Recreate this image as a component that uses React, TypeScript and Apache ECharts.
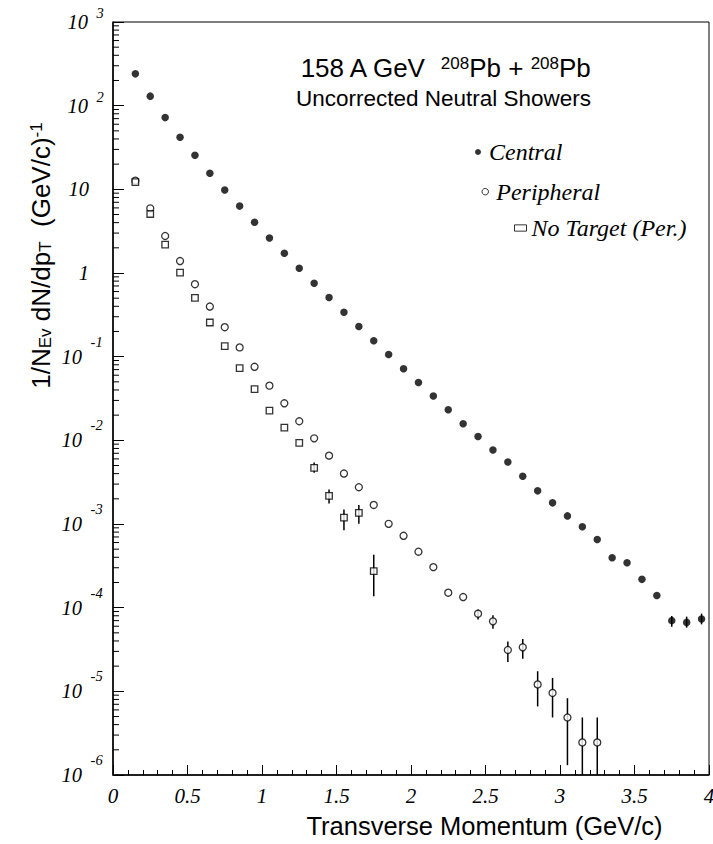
import React, { useEffect, useRef } from "react";
import * as echarts from "echarts";

// Transverse momentum bin centres (GeV/c)
const ptBins = [
  0.15, 0.25, 0.35, 0.45, 0.55, 0.65, 0.75, 0.85, 0.95, 1.05,
  1.15, 1.25, 1.35, 1.45, 1.55, 1.65, 1.75, 1.85, 1.95, 2.05,
  2.15, 2.25, 2.35, 2.45, 2.55, 2.65, 2.75, 2.85, 2.95, 3.05,
  3.15, 3.25, 3.35, 3.45, 3.55, 3.65, 3.75, 3.85, 3.95,
];

// 1/N_Ev dN/dpT, central events
const centralYield = [
  240, 130, 72, 42, 25.5, 15.6, 9.8, 6.3, 4.05, 2.62,
  1.72, 1.14, 0.755, 0.509, 0.34, 0.229, 0.155, 0.106, 0.0717, 0.0492,
  0.0339, 0.0232, 0.0158, 0.0111, 0.00767, 0.00552, 0.00372, 0.00249, 0.00179, 0.00125,
  0.000927, 0.000653, 0.000395, 0.000344, 0.000218, 0.00014, 7.0e-5, 6.67e-5, 7.31e-5,
];

// peripheral events (first 32 bins)
const peripheralYield = [
  12.7, 5.93, 2.77, 1.39, 0.735, 0.397, 0.225, 0.129, 0.0757, 0.045,
  0.0277, 0.0169, 0.01057, 0.00656, 0.00401, 0.00275, 0.00169, 0.001005, 0.000723, 0.000466,
  0.000305, 0.000151, 0.000134, 8.47e-5, 6.86e-5, 3.12e-5, 3.36e-5, 1.21e-5, 9.57e-6, 4.87e-6,
  2.45e-6, 2.45e-6,
];

// empty-target runs with the peripheral trigger (first 17 bins)
const noTargetYield = [
  12.2, 5.07, 2.18, 1.01, 0.505, 0.256, 0.134, 0.0731, 0.041, 0.0226,
  0.0142, 0.0093, 0.00469, 0.00217, 0.00119, 0.00136, 0.000273,
];

// error bars: [pT, lower, upper]
const centralErrors = [
  [3.75, 5.93e-5, 7.94e-5],
  [3.85, 5.77e-5, 7.81e-5],
  [3.95, 6.32e-5, 8.48e-5],
];
const peripheralErrors = [
  [2.45, 7.2e-5, 9.5e-5],
  [2.55, 5.6e-5, 8.1e-5],
  [2.65, 2.24e-5, 3.93e-5],
  [2.75, 2.46e-5, 4.22e-5],
  [2.85, 6.6e-6, 1.74e-5],
  [2.95, 4.87e-6, 1.445e-5],
  [3.05, 1.31e-6, 8.28e-6],
  [3.15, 1.0e-6, 4.87e-6],
  [3.25, 1.0e-6, 4.87e-6],
];
const noTargetErrors = [
  [1.35, 4.11e-3, 5.42e-3],
  [1.45, 1.76e-3, 2.58e-3],
  [1.55, 8.4e-4, 1.49e-3],
  [1.65, 1.01e-3, 1.69e-3],
  [1.75, 1.37e-4, 4.29e-4],
];

const seriesNames = ["Central", "Peripheral", "No Target (Per.)"];

// tick labels
const xTickValues = [0, 0.5, 1, 1.5, 2, 2.5, 3, 3.5, 4];
const yDecadeExponents = [-6, -5, -4, -3, -2, -1, 0, 1, 2, 3];

const X_MIN = 0;
const X_MAX = 4;
const Y_MIN = 1e-6;
const Y_MAX = 1e3;

// log-axis minor ticks at 2..9 x 10^k
const minorTickValues: number[] = [];
for (let k = -6; k <= 2; k++) {
  for (let m = 2; m <= 9; m++) minorTickValues.push(m * Math.pow(10, k));
}

const SANS = "Liberation Sans";
const SERIF = "Liberation Serif";

const toPairs = (ys: number[]) => ys.map((y, i) => [ptBins[i], y]);

const errorBarSeries = (name: string, errs: number[][]) => ({
  type: "custom",
  name,
  data: errs,
  silent: true,
  z: 2,
  clip: true,
  encode: { x: 0, y: [1, 2] },
  renderItem: (_params: any, api: any) => {
    const lo = api.coord([api.value(0), api.value(1)]);
    const hi = api.coord([api.value(0), api.value(2)]);
    return {
      type: "line",
      shape: { x1: lo[0], y1: lo[1], x2: hi[0], y2: hi[1] },
      style: { stroke: "#000", lineWidth: 1.5 },
    };
  },
});

const legendBase = {
  orient: "vertical",
  padding: 0,
  selectedMode: false,
  itemGap: 0,
  textStyle: { fontFamily: SERIF, fontStyle: "italic", fontWeight: "normal", fontSize: 24, color: "#000" },
};

const italicText = (text: string, x: number, y: number, size: number, align: string, vAlign: string) => ({
  type: "text",
  silent: true,
  z: 10,
  style: {
    text,
    x,
    y,
    fill: "#000",
    font: `italic normal ${size}px "${SERIF}"`,
    align,
    verticalAlign: vAlign,
  },
});

export default function App() {
  const ref = useRef<HTMLDivElement>(null);

  useEffect(() => {
    if (!ref.current) return;
    const chart = echarts.init(ref.current, undefined, { renderer: "svg" });

    chart.setOption({
      animation: false,
      backgroundColor: "#fff",
      title: [
        {
          text: "{a|158 A GeV  }{s|208}{a|Pb + }{s|208}{a|Pb}",
          left: 445,
          top: 55,
          padding: 0,
          textAlign: "center",
          textVerticalAlign: "top",
          textStyle: {
            fontWeight: "normal",
            rich: {
              a: { fontFamily: SANS, fontSize: 26, fontWeight: "normal", color: "#000" },
              s: { fontFamily: SANS, fontSize: 17, fontWeight: "normal", color: "#000", verticalAlign: "top" },
            },
          },
        },
        {
          text: "Uncorrected Neutral Showers",
          left: 443.5,
          top: 87,
          padding: 0,
          textAlign: "center",
          textVerticalAlign: "top",
          textStyle: { fontFamily: SANS, fontSize: 22.5, fontWeight: "normal", color: "#000" },
        },
      ],
      legend: [
        {
          ...legendBase,
          data: ["Central"],
          left: 475,
          top: 140,
          itemWidth: 12,
          itemHeight: 6,
          itemStyle: { color: "#000", borderWidth: 0 },
        },
        {
          ...legendBase,
          data: ["Peripheral"],
          left: 481.5,
          top: 179.7,
          itemWidth: 12,
          itemHeight: 6.5,
          itemStyle: { color: "#fff", borderColor: "#000", borderWidth: 1 },
        },
        {
          ...legendBase,
          data: ["No Target (Per.)"],
          left: 514,
          top: 216,
          itemWidth: 12,
          itemHeight: 6.3,
          itemStyle: { color: "#fff", borderColor: "#000", borderWidth: 1 },
        },
      ],
      grid: {
        show: true,
        left: 113,
        right: 4,
        top: 22,
        bottom: 68,
        borderColor: "#000",
        borderWidth: 1,
        containLabel: false,
      },
      xAxis: {
        type: "value",
        min: X_MIN,
        max: X_MAX,
        interval: 0.5,
        name: "Transverse Momentum (GeV/c)",
        nameLocation: "middle",
        nameGap: 38,
        nameTextStyle: {
          fontFamily: SANS,
          fontSize: 25.5,
          fontWeight: "normal",
          color: "#000",
          padding: [0, 0, 0, 147],
        },
        axisLine: { show: true, lineStyle: { color: "#000", width: 1.5 } },
        axisTick: { show: true, inside: true, length: 10, lineStyle: { color: "#000", width: 1 } },
        minorTick: { show: true, splitNumber: 5, length: 5, lineStyle: { color: "#000", width: 1 } },
        splitLine: { show: false },
        axisLabel: { show: false },
      },
      yAxis: {
        type: "log",
        logBase: 10,
        min: Y_MIN,
        max: Y_MAX,
        splitNumber: 9,
        name: "{a|1/N}{sub|Ev}{a| dN/dp}{sub|T}{a|  (GeV/c)}{sup|-1}",
        nameLocation: "middle",
        nameRotate: 90,
        nameGap: 59,
        nameTextStyle: {
          padding: [0, 0, 0, 286],
          rich: {
            a: { fontFamily: SANS, fontSize: 26, fontWeight: "normal", color: "#000" },
            sub: { fontFamily: SANS, fontSize: 17, fontWeight: "normal", color: "#000", verticalAlign: "bottom" },
            sup: { fontFamily: SANS, fontSize: 17, fontWeight: "normal", color: "#000", verticalAlign: "top" },
          },
        },
        axisLine: { show: true, lineStyle: { color: "#000", width: 1.5 } },
        axisTick: { show: true, inside: true, length: 11, lineStyle: { color: "#000", width: 1 } },
        minorTick: { show: false },
        splitLine: { show: false },
        axisLabel: { show: false },
      },
      series: [
        {
          type: "custom",
          name: "minor ticks",
          data: minorTickValues.map((v) => [0, v]),
          silent: true,
          clip: false,
          z: 1,
          renderItem: (_params: any, api: any) => {
            const p = api.coord([api.value(0), api.value(1)]);
            return {
              type: "line",
              shape: { x1: p[0], y1: p[1], x2: p[0] + 6, y2: p[1] },
              style: { stroke: "#000", lineWidth: 1 },
            };
          },
        },
        errorBarSeries("Central errors", centralErrors),
        errorBarSeries("Peripheral errors", peripheralErrors),
        errorBarSeries("No Target errors", noTargetErrors),
        {
          type: "scatter",
          name: seriesNames[0],
          data: toPairs(centralYield),
          symbol: "circle",
          symbolSize: 7.5,
          z: 3,
          itemStyle: { color: "#000" },
        },
        {
          type: "scatter",
          name: seriesNames[1],
          data: toPairs(peripheralYield),
          symbol: "circle",
          symbolSize: 7,
          z: 3,
          itemStyle: { color: "#fff", borderColor: "#000", borderWidth: 1.3 },
        },
        {
          type: "scatter",
          name: seriesNames[2],
          data: toPairs(noTargetYield),
          symbol: "rect",
          symbolSize: 6.5,
          z: 3,
          itemStyle: { color: "#fff", borderColor: "#000", borderWidth: 1.3 },
        },
      ],
    });

    // Tick labels in italic serif, placed at the axis scale positions
    const labels: any[] = [];
    xTickValues.forEach((v) => {
      const p = chart.convertToPixel({ gridIndex: 0 }, [v, Y_MIN]) as number[];
      labels.push(italicText(String(v), p[0], p[1] + 10, 21, "center", "top"));
    });
    yDecadeExponents.forEach((e) => {
      const p = chart.convertToPixel({ gridIndex: 0 }, [X_MIN, Math.pow(10, e)]) as number[];
      if (e === 0 || e === 1) {
        labels.push(italicText(e === 0 ? "1" : "10", p[0] - 24, p[1], 20.5, "right", "middle"));
        return;
      }
      const baseRight = e > 0 ? p[0] - 25 : p[0] - 31;
      labels.push(italicText("10", baseRight, p[1], 20.5, "right", "middle"));
      labels.push(italicText(String(e), baseRight + 8.6, p[1] - (e > 0 ? 9 : 15), 14.5, "left", "middle"));
    });
    chart.setOption({ graphic: labels });

    return () => chart.dispose();
  }, []);

  return (
    <div
      ref={ref}
      style={{ position: "absolute", left: 0, top: 0, width: 713, height: 844 }}
    />
  );
}
